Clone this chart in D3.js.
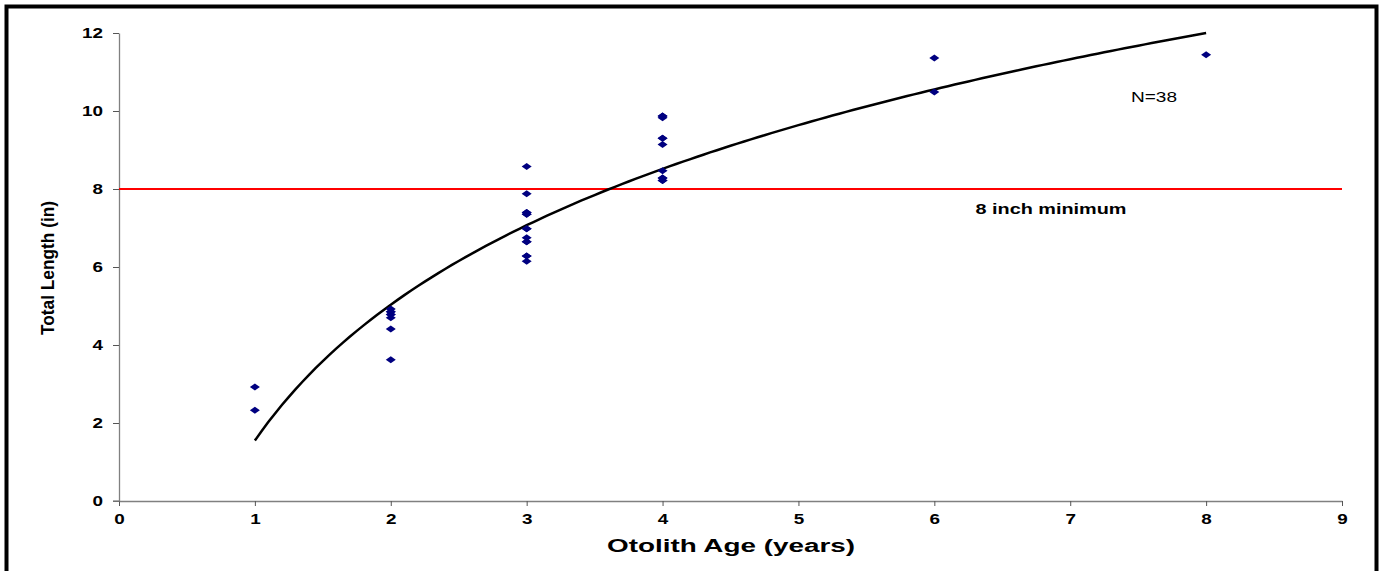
<!DOCTYPE html>
<html>
<head>
<meta charset="utf-8">
<script src="https://cdn.jsdelivr.net/npm/d3@7"></script>
<style>
html,body{margin:0;padding:0;background:#fff;overflow:hidden;}
svg{display:block;}
</style>
</head>
<body>
<svg id="chart" width="1384" height="571"></svg>
<script>
// ---- data ----
const ages    = [1,1, 2,2,2,2,2,2,2,2, 3,3,3,3,3,3,3,3,3,3,3,3,3,3, 4,4,4,4,4,4,4,4,4,4,4, 6,6, 8];
const lengths = [2.92,2.33, 3.62,4.41,4.70,4.78,4.85,4.92,4.85,4.78,
                 8.58,7.88,7.40,7.35,6.98,6.75,6.65,6.28,6.15,7.40,6.98,6.65,6.28,7.35,
                 9.87,9.83,9.30,9.14,8.47,8.28,8.22,9.87,9.30,8.28,8.22,
                 11.36,10.49, 11.44];
const xTicks = [0,1,2,3,4,5,6,7,8,9];
const yTicks = [0,2,4,6,8,10,12];
const minimumLength = 8;
// logarithmic trend line: length = fitA + fitB * ln(age), drawn for ages 1..8
const fitA = 1.55, fitB = 5.025;
const fitRange = [1, 8];

const FONT = "Liberation Sans, Arial, sans-serif";
const svg = d3.select("#chart");
const x = d3.scaleLinear().domain([0, 9]).range([119, 1342]);
const y = d3.scaleLinear().domain([0, 12]).range([501, 33]);

// frame (no bottom edge visible)
svg.append("path")
  .attr("d", "M6.5,580 L6.5,6.5 L1376.5,6.5 L1376.5,580")
  .attr("fill", "none").attr("stroke", "#000").attr("stroke-width", 4);

// axes
const axisColor = "#808080";
const xAxis = svg.append("g").attr("transform", `translate(0,${y(0)})`)
  .call(d3.axisBottom(x).tickValues(xTicks).tickSize(5).tickSizeOuter(0).tickFormat(d3.format("d")));
const yAxis = svg.append("g").attr("transform", `translate(${x(0)},0)`)
  .call(d3.axisLeft(y).tickValues(yTicks).tickSize(6).tickSizeOuter(0).tickFormat(d3.format("d")));
[xAxis, yAxis].forEach(g => {
  g.select(".domain").attr("stroke", axisColor).attr("stroke-width", 1.3);
  g.selectAll(".tick line").attr("stroke", "#555").attr("stroke-width", 1);
  g.selectAll(".tick text").attr("fill", "#000")
    .attr("font-family", FONT)
    .attr("font-weight", "bold").attr("font-size", 14)
    .attr("textLength", d => String(d).length * 10.5)
    .attr("lengthAdjust", "spacingAndGlyphs");
});
xAxis.selectAll(".tick text").attr("dy", "0.71em").attr("y", 13);
yAxis.selectAll(".tick text").attr("x", -16);
// x axis extends a little left of y axis
svg.append("line").attr("x1", x(0) - 6).attr("x2", x(0)).attr("y1", y(0)).attr("y2", y(0))
  .attr("stroke", axisColor).attr("stroke-width", 1.3);

// minimum line
svg.append("line")
  .attr("x1", x(0)).attr("x2", x(9))
  .attr("y1", y(minimumLength)).attr("y2", y(minimumLength))
  .attr("stroke", "#ff0000").attr("stroke-width", 2);

// trend line
const fitPts = d3.range(fitRange[0], fitRange[1] + 0.0001, 0.05).map(a => [a, fitA + fitB * Math.log(a)]);
svg.append("path").datum(fitPts)
  .attr("d", d3.line().x(d => x(d[0])).y(d => y(d[1])))
  .attr("fill", "none").attr("stroke", "#000").attr("stroke-width", 2.5);

// points (diamonds)
svg.append("g").selectAll("path").data(ages.map((a, i) => [a, lengths[i]]))
  .join("path")
  .attr("transform", d => `translate(${x(d[0])},${y(d[1])})`)
  .attr("d", "M-5,0 L0,-3.5 L5,0 L0,3.5 Z")
  .attr("fill", "#000080");

// texts
svg.append("text").attr("x", 1154).attr("y", 102).attr("text-anchor", "middle")
  .attr("font-family", FONT).attr("font-size", 14)
  .attr("textLength", 46).attr("lengthAdjust", "spacingAndGlyphs")
  .text("N=38");
svg.append("text").attr("x", 1051).attr("y", 214).attr("text-anchor", "middle")
  .attr("font-family", FONT).attr("font-size", 14).attr("font-weight", "bold")
  .attr("textLength", 151).attr("lengthAdjust", "spacingAndGlyphs")
  .text("8 inch minimum");
svg.append("text").attr("x", 731).attr("y", 552).attr("text-anchor", "middle")
  .attr("font-family", FONT).attr("font-size", 18).attr("font-weight", "bold")
  .attr("textLength", 248).attr("lengthAdjust", "spacingAndGlyphs")
  .text("Otolith Age (years)");
svg.append("text")
  .attr("transform", "translate(54,268) rotate(-90)")
  .attr("text-anchor", "middle")
  .attr("font-family", FONT).attr("font-size", 19).attr("font-weight", "bold")
  .attr("textLength", 134).attr("lengthAdjust", "spacingAndGlyphs")
  .text("Total Length (in)");
</script>
</body>
</html>
